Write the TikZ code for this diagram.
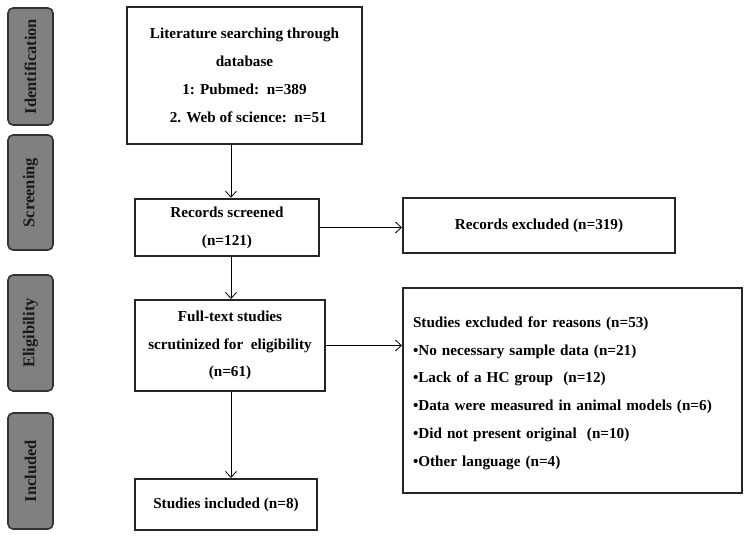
\documentclass[tikz,border=0pt]{standalone}
\usepackage{fontspec}
\setmainfont{Liberation Serif}
\usetikzlibrary{positioning,arrows.meta}

\tikzset{
  box/.style={draw=black!85,line width=2pt,fill=white,inner sep=8pt,
    font=\bfseries\fontsize{15.2}{27.8}\selectfont,align=center},
  stage/.style={draw=black!80,line width=1.6pt,fill=black!50,rounded corners=5pt,
    minimum width=45pt,font=\bfseries\fontsize{16.5}{18}\selectfont,text=black!90},
}

\begin{document}
\begin{tikzpicture}[x=1pt,y=-1pt,>={Straight Barb[length=6pt,width=11pt]},thick]
    \useasboundingbox (0,0) rectangle (749,538);
    % stage labels on the left
    \node[stage,minimum height=117pt] (s_ident)  at (30.5,66.5) {\rotatebox{90}{Identification}};
    \node[stage,minimum height=115pt] (s_screen) at (30.5,192.5) {\rotatebox{90}{Screening}};
    \node[stage,minimum height=116pt] (s_elig)   at (30.5,333) {\rotatebox{90}{Eligibility}};
    \node[stage,minimum height=116pt] (s_incl)   at (30.5,471) {\rotatebox{90}{Included}};
    % main column
    \node[box,minimum width=235pt,minimum height=137pt] (lit) at (244.5,75.5)
      {Literature searching through\\database\\1: Pubmed:\ \ n=389\\\ \ 2. Web of science:\ \ n=51};
    \node[box,minimum width=184pt,minimum height=55pt] (scr) at (227,227.5)
      {Records screened\\(n=121)};
    \node[box,minimum width=190pt,minimum height=91pt] (full) at (230,345.5)
      {Full-text studies\\scrutinized for\ \ eligibility\\(n=61)};
    \node[box,minimum width=182pt,minimum height=51pt] (incl) at (226,504.5)
      {Studies included (n=8)};
    % exclusions
    \node[box,minimum width=272pt,minimum height=55pt] (excl) at (539,225.5)
      {Records excluded (n=319)};
    \node[box,minimum width=339pt,minimum height=205pt,text width=319pt,align=left,inner sep=10pt] (reas) at (572.5,390.5)
      {\rule{0pt}{8pt}\\[-19.8pt]
       Studies excluded for reasons (n=53)\\
       \textbullet No necessary sample data (n=21)\\
       \textbullet Lack of a HC group\ \ (n=12)\\
       \textbullet Data were measured in animal models (n=6)\\
       \textbullet Did not present original\ \ (n=10)\\
       \textbullet Other language (n=4)};
    \coordinate (spine) at (231,0);
    \path[->]
    (lit.south -| spine) edge (scr.north -| spine)
    (scr.south -| spine) edge (full.north -| spine)
    (full.south -| spine) edge (incl.north -| spine)
    % side edges
    (scr.east) edge (scr.east -| excl.west)
    (full.east) edge (full.east -| reas.west);
\end{tikzpicture}
\end{document}
